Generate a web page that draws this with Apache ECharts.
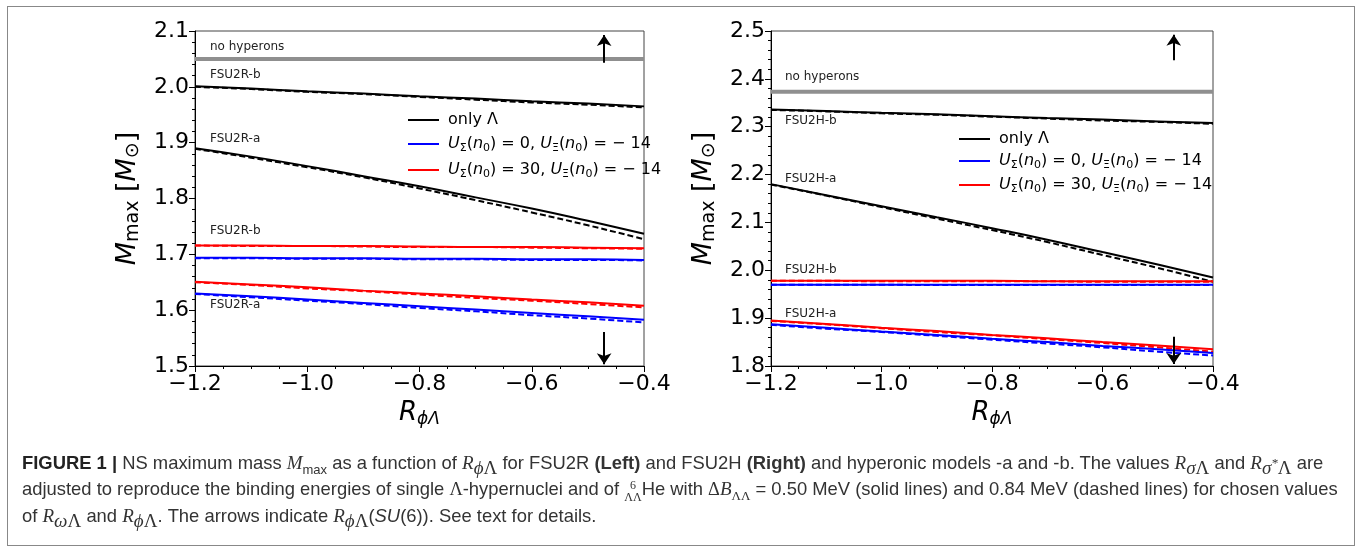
<!DOCTYPE html>
<html>
<head>
<meta charset="utf-8">
<script src="https://cdn.jsdelivr.net/npm/echarts@6/dist/echarts.min.js"></script>
<style>
  html, body { margin: 0; padding: 0; background: #fff; }
  #wrap { position: relative; width: 1363px; height: 554px; }
  #frame { position: absolute; left: 7px; top: 6px; width: 1348px; height: 540px; border: 1px solid #888; box-sizing: border-box; }
  #chart { position: absolute; left: 0; top: 0; width: 1363px; height: 554px; }
  #caption { position: absolute; left: 22px; top: 450px; font-family: "Liberation Sans", Arial, sans-serif; font-size: 18.4px; color: #333; line-height: 26px; }
  #caption div { white-space: nowrap; }
  .m { font-family: "Liberation Serif", "DejaVu Serif", serif; font-style: italic; font-size: 19px; }
  .g { font-family: "Liberation Serif", "DejaVu Serif", serif; font-style: normal; }
  sub, sup { font-size: 13px; line-height: 0; }
  .stk { display: inline-block; vertical-align: -6px; line-height: 12px; font-size: 12px; text-align: center; font-family: "Liberation Serif", serif; }
</style>
</head>
<body>
<div id="wrap">
  <div id="frame"></div>
  <div id="chart"></div>
  <div id="caption">
    <div><b style="color:#222">FIGURE 1 |</b> NS maximum mass <span class="m">M</span><sub>max</sub> as a function of <span class="m">R</span><sub class="m">ϕ<span class="g">Λ</span></sub> for FSU2R <b>(Left)</b> and FSU2H <b>(Right)</b> and hyperonic models -a and -b. The values <span class="m">R</span><sub class="m">σ<span class="g">Λ</span></sub> and <span class="m">R</span><sub class="m">σ<sup>*</sup><span class="g">Λ</span></sub> are</div>
    <div>adjusted to reproduce the binding energies of single <span class="g">Λ</span>-hypernuclei and of <span class="stk">6<br><span class="g">ΛΛ</span></span>He with <span class="g">Δ</span><span class="m">B</span><sub class="g">ΛΛ</sub> = 0.50 MeV (solid lines) and 0.84 MeV (dashed lines) for chosen values</div>
    <div>of <span class="m">R</span><sub class="m">ω<span class="g">Λ</span></sub> and <span class="m">R</span><sub class="m">ϕ<span class="g">Λ</span></sub>. The arrows indicate <span class="m">R</span><sub class="m">ϕ<span class="g">Λ</span></sub>(<i>SU</i>(6)). See text for details.</div>
  </div>
</div>
<script>
// x values (R_phiLambda)
var rPhi = [-1.2, -1.1, -1.0, -0.9, -0.8, -0.7, -0.6, -0.5, -0.4];

// FSU2R (left panel)
var L_noHyp = 2.05;
var L_b_only = [2.001, 1.997, 1.992, 1.988, 1.983, 1.979, 1.974, 1.970, 1.965];
var L_b_only_d = [2.000, 1.996, 1.991, 1.987, 1.982, 1.977, 1.972, 1.968, 1.963];
var L_a_only = [1.890, 1.875, 1.858, 1.840, 1.822, 1.802, 1.782, 1.760, 1.737];
var L_a_only_d = [1.889, 1.873, 1.856, 1.838, 1.818, 1.797, 1.775, 1.752, 1.727];
var L_b_u30 = [1.716, 1.716, 1.715, 1.715, 1.714, 1.713, 1.713, 1.712, 1.711];
var L_b_u30_d = [1.716, 1.715, 1.715, 1.714, 1.713, 1.713, 1.712, 1.711, 1.710];
var L_b_u0 = [1.694, 1.694, 1.693, 1.693, 1.692, 1.692, 1.691, 1.691, 1.690];
var L_b_u0_d = [1.693, 1.693, 1.692, 1.692, 1.691, 1.691, 1.690, 1.690, 1.689];
var L_a_u30 = [1.651, 1.646, 1.641, 1.635, 1.630, 1.625, 1.619, 1.614, 1.608];
var L_a_u30_d = [1.650, 1.645, 1.639, 1.634, 1.628, 1.622, 1.617, 1.611, 1.605];
var L_a_u0 = [1.630, 1.625, 1.619, 1.613, 1.607, 1.601, 1.595, 1.589, 1.583];
var L_a_u0_d = [1.629, 1.623, 1.617, 1.611, 1.604, 1.598, 1.591, 1.585, 1.578];

// FSU2H (right panel)
var R_noHyp = 2.373;
var R_b_only = [2.336, 2.333, 2.329, 2.326, 2.322, 2.318, 2.315, 2.311, 2.308];
var R_b_only_d = [2.335, 2.332, 2.328, 2.325, 2.321, 2.317, 2.313, 2.310, 2.306];
var R_a_only = [2.180, 2.157, 2.134, 2.111, 2.088, 2.064, 2.038, 2.012, 1.985];
var R_a_only_d = [2.179, 2.156, 2.132, 2.108, 2.084, 2.059, 2.032, 2.005, 1.976];
var R_b_u30 = [1.978, 1.978, 1.978, 1.978, 1.978, 1.977, 1.977, 1.977, 1.977];
var R_b_u30_d = [1.978, 1.978, 1.977, 1.977, 1.977, 1.977, 1.976, 1.976, 1.976];
var R_b_u0 = [1.970, 1.970, 1.970, 1.970, 1.970, 1.970, 1.970, 1.970, 1.970];
var R_b_u0_d = [1.970, 1.970, 1.970, 1.969, 1.969, 1.969, 1.969, 1.969, 1.969];
var R_a_u30 = [1.895, 1.888, 1.880, 1.873, 1.865, 1.858, 1.850, 1.843, 1.835];
var R_a_u30_d = [1.894, 1.887, 1.879, 1.871, 1.864, 1.856, 1.848, 1.839, 1.830];
var R_a_u0 = [1.887, 1.880, 1.872, 1.865, 1.857, 1.850, 1.842, 1.835, 1.827];
var R_a_u0_d = [1.886, 1.878, 1.871, 1.863, 1.855, 1.847, 1.839, 1.830, 1.822];

// SU(6) arrows: [x, tail, head]
var L_arrowUp = [-0.471, 2.043, 2.093];
var L_arrowDown = [-0.471, 1.561, 1.503];
var R_arrowUp = [-0.471, 2.439, 2.492];
var R_arrowDown = [-0.471, 1.861, 1.804];

var FONT = 'DejaVu Sans';
var BLACK = '#000', BLUE = '#0000ff', RED = '#ff0000', GRAY = '#8f8f8f';

function pairs(ys) {
    return rPhi.map(function (x, i) { return [x, ys[i]]; });
}

function line(name, ys, color, dashed, gi) {
    return {
        name: name,
        type: 'line',
        xAxisIndex: gi,
        yAxisIndex: gi,
        data: pairs(ys),
        showSymbol: false,
        smooth: true,
        silent: true,
        z: dashed ? 3 : 4,
        itemStyle: { color: color },
        lineStyle: { color: color, width: 2, type: dashed ? [6, 3] : 'solid' }
    };
}

function arrow(a) {
    return [{ coord: [a[0], a[1]] }, { coord: [a[0], a[2]] }];
}

function noHypSeries(v, up, down, gi) {
    return {
        name: 'noHyp' + gi,
        type: 'line',
        xAxisIndex: gi,
        yAxisIndex: gi,
        data: [[rPhi[0], v], [rPhi[rPhi.length - 1], v]],
        showSymbol: false,
        silent: true,
        z: 2,
        itemStyle: { color: GRAY },
        lineStyle: { color: GRAY, width: 4 },
        markLine: {
            silent: true,
            symbol: ['none', 'arrow'],
            symbolSize: 11,
            label: { show: false },
            itemStyle: { color: BLACK },
            lineStyle: { color: BLACK, width: 2, type: 'solid' },
            emphasis: { disabled: true },
            data: [arrow(up), arrow(down)]
        }
    };
}

function xAxis(gi) {
    return {
        gridIndex: gi,
        type: 'value',
        min: -1.2,
        max: -0.4,
        interval: 0.2,
        name: '{i|R}{s|ϕΛ}',
        nameLocation: 'middle',
        nameGap: 32,
        nameTextStyle: {
            fontFamily: FONT, fontSize: 26, color: '#000',
            rich: {
                i: { fontStyle: 'italic', fontSize: 26, fontFamily: FONT, lineHeight: 30 },
                s: { fontStyle: 'italic', fontSize: 17, fontFamily: FONT, verticalAlign: 'bottom', lineHeight: 20 }
            }
        },
        axisLine: { onZero: false, lineStyle: { color: '#000', width: 1 } },
        axisTick: { length: 6, lineStyle: { color: '#000' } },
        minorTick: { show: true, splitNumber: 4, length: 3, lineStyle: { color: '#000' } },
        splitLine: { show: false },
        axisLabel: {
            fontFamily: FONT, fontSize: 22, color: '#000', margin: 7,
            formatter: function (v) { return (v < 0 ? '\u2212' : '') + Math.abs(v).toFixed(1); }
        }
    };
}

function yAxis(gi, mn, mx) {
    return {
        gridIndex: gi,
        type: 'value',
        min: mn,
        max: mx,
        interval: 0.1,
        name: '{i|M}{s|max} [{i|M}{o|⊙}]',
        nameLocation: 'middle',
        nameGap: 52,
        nameRotate: 90,
        nameTextStyle: {
            fontFamily: FONT, fontSize: 27, color: '#000',
            rich: {
                i: { fontStyle: 'italic', fontSize: 27, fontFamily: FONT, lineHeight: 30 },
                s: { fontSize: 19, fontFamily: FONT, verticalAlign: 'bottom', lineHeight: 20 },
                o: { fontSize: 19, fontFamily: FONT, verticalAlign: 'bottom', lineHeight: 22 }
            }
        },
        axisLine: { onZero: false, lineStyle: { color: '#000', width: 1 } },
        axisTick: { length: 6, lineStyle: { color: '#000' } },
        minorTick: { show: true, splitNumber: 5, length: 3, lineStyle: { color: '#000' } },
        splitLine: { show: false },
        axisLabel: {
            fontFamily: FONT, fontSize: 22, color: '#000', margin: 6,
            formatter: function (v) { return v.toFixed(1); }
        }
    };
}

var legendRich = {
    n: { fontFamily: FONT, fontSize: 16, color: '#000', lineHeight: 20 },
    i: { fontFamily: FONT, fontSize: 16, fontStyle: 'italic', color: '#000', lineHeight: 20 },
    s: { fontFamily: FONT, fontSize: 11, color: '#000', verticalAlign: 'bottom', lineHeight: 16 }
};

function legendText(name) {
    if (name === 'U0') return '{i|U}{s|Σ}{n|(}{i|n}{s|0}{n|) = 0, }{i|U}{s|Ξ}{n|(}{i|n}{s|0}{n|) = \u2212 14}';
    if (name === 'U30') return '{i|U}{s|Σ}{n|(}{i|n}{s|0}{n|) = 30, }{i|U}{s|Ξ}{n|(}{i|n}{s|0}{n|) = \u2212 14}';
    return '{n|only Λ}';
}

function legend(left, top, gap) {
    return {
        orient: 'vertical',
        left: left,
        top: top,
        icon: 'rect',
        itemWidth: 31,
        itemHeight: 2,
        itemGap: gap,
        selectedMode: false,
        data: ['only Λ', 'U0', 'U30'],
        formatter: legendText,
        textStyle: { rich: legendRich, padding: [0, 0, 0, 4] }
    };
}

function label(x, y, t) {
    return { type: 'text', left: x, top: y, silent: true, style: { text: t, font: '12px "DejaVu Sans"', fill: '#222' } };
}

var chart = echarts.init(document.getElementById('chart'), null, { renderer: 'canvas' });

var option = {
    animation: false,
    grid: [
        { left: 195, top: 31, width: 449, height: 335, show: true, borderColor: '#444', borderWidth: 1, backgroundColor: 'transparent' },
        { left: 771, top: 31, width: 442, height: 335, show: true, borderColor: '#444', borderWidth: 1, backgroundColor: 'transparent' }
    ],
    xAxis: [xAxis(0), xAxis(1)],
    yAxis: [yAxis(0, 1.5, 2.1), yAxis(1, 1.8, 2.5)],
    legend: [legend(403, 107, 8), legend(954, 126, 6)],
    series: [
        noHypSeries(L_noHyp, L_arrowUp, L_arrowDown, 0),
        line('only Λ', L_b_only, BLACK, false, 0),
        line('only Λ d', L_b_only_d, BLACK, true, 0),
        line('only Λ', L_a_only, BLACK, false, 0),
        line('only Λ d', L_a_only_d, BLACK, true, 0),
        line('U30', L_b_u30, RED, false, 0),
        line('U30 d', L_b_u30_d, RED, true, 0),
        line('U0', L_b_u0, BLUE, false, 0),
        line('U0 d', L_b_u0_d, BLUE, true, 0),
        line('U30', L_a_u30, RED, false, 0),
        line('U30 d', L_a_u30_d, RED, true, 0),
        line('U0', L_a_u0, BLUE, false, 0),
        line('U0 d', L_a_u0_d, BLUE, true, 0),

        noHypSeries(R_noHyp, R_arrowUp, R_arrowDown, 1),
        line('only Λ', R_b_only, BLACK, false, 1),
        line('only Λ d', R_b_only_d, BLACK, true, 1),
        line('only Λ', R_a_only, BLACK, false, 1),
        line('only Λ d', R_a_only_d, BLACK, true, 1),
        line('U30', R_b_u30, RED, false, 1),
        line('U30 d', R_b_u30_d, RED, true, 1),
        line('U0', R_b_u0, BLUE, false, 1),
        line('U0 d', R_b_u0_d, BLUE, true, 1),
        line('U30', R_a_u30, RED, false, 1),
        line('U30 d', R_a_u30_d, RED, true, 1),
        line('U0', R_a_u0, BLUE, false, 1),
        line('U0 d', R_a_u0_d, BLUE, true, 1)
    ],
    graphic: [
        label(210, 41, 'no hyperons'),
        label(210, 69, 'FSU2R-b'),
        label(210, 133, 'FSU2R-a'),
        label(210, 225, 'FSU2R-b'),
        label(210, 299, 'FSU2R-a'),
        label(785, 71, 'no hyperons'),
        label(785, 115, 'FSU2H-b'),
        label(785, 173, 'FSU2H-a'),
        label(785, 264, 'FSU2H-b'),
        label(785, 308, 'FSU2H-a')
    ]
};

chart.setOption(option);
</script>
</body>
</html>
